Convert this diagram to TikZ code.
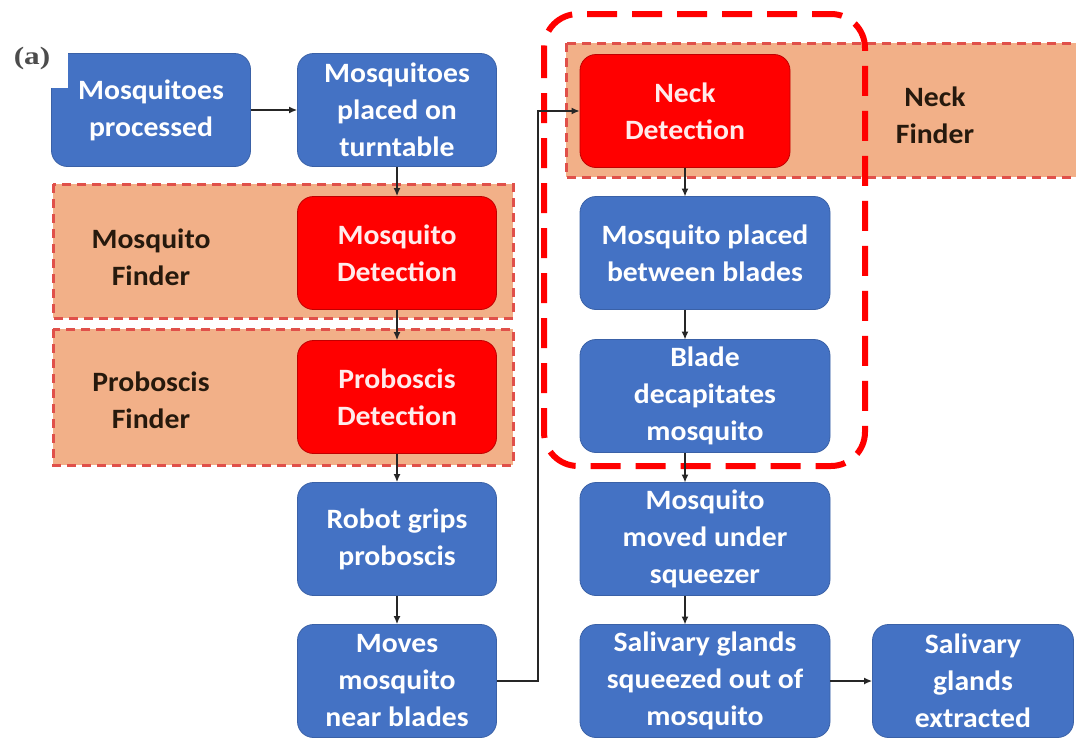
\documentclass[tikz,border=0pt]{standalone}
\usepackage{fontspec}
\setmainfont{Carlito}
\newfontfamily\labelserif{Liberation Serif}
\usetikzlibrary{arrows.meta}
\definecolor{boxblue}{HTML}{4472C4}
\definecolor{detred}{HTML}{FF0000}
\definecolor{detedge}{HTML}{C00000}
\definecolor{panelfill}{HTML}{F2B088}
\definecolor{paneledge}{HTML}{E0504A}
\definecolor{wire}{HTML}{262626}
\tikzset{
  boxfont/.style={font=\addfontfeature{FakeStretch=1.06}\fontsize{28}{37}\selectfont\bfseries},
  bluebox/.style={draw=boxblue!85!black, line width=0.8pt, fill=boxblue, rounded corners=16pt,
    text=white, boxfont, align=center,
    minimum width=199pt, minimum height=113pt, inner sep=0pt},
  redbox/.style={bluebox, draw=detedge, fill=detred, text=white!92!red},
  panel/.style={draw=paneledge, fill=panelfill, line width=3pt, dash pattern=on 9pt off 6pt},
  panellabel/.style={boxfont, text=black!80!brown, align=center},
  group/.style={draw=detred, line width=6pt, dash pattern=on 30pt off 15pt, rounded corners=34pt},
  link/.style={draw=wire, line width=1.4pt, -{Latex[length=8pt,width=7pt]}},
}
\begin{document}
\begin{tikzpicture}[x=1pt,y=-1pt]
\useasboundingbox (0,0) rectangle (1076,739);
\fill[white] (0,0) rectangle (1076,739);

% finder panels
\path[panel] (53,184) rectangle (513,318);
\path[panel] (53,329) rectangle (513,465);
\path[panel] (566,43) rectangle (1082,177);
\node[panellabel] (mfl) at (151,257) {Mosquito\\Finder};
\node[panellabel] (pfl) at (151,400) {Proboscis\\Finder};
\node[panellabel] (nfl) at (935,115) {Neck\\Finder};

% left column
\node[bluebox] (proc) at (151,110) {Mosquitoes\\processed};
\fill[white] (48,48) rectangle (68,88);
\node[font=\labelserif\addfontfeature{FakeStretch=1.25}\fontsize{25}{27}\selectfont\bfseries, text=black!70, inner sep=0pt] (lab) at (32,58) {(a)};
\node[bluebox] (turn) at (397,110) {Mosquitoes\\placed on\\turntable};
\node[redbox] (mdet) at (397,253) {Mosquito\\Detection};
\node[redbox] (pdet) at (397,397) {Proboscis\\Detection};
\node[bluebox] (grip) at (397,539) {Robot grips\\proboscis};
\node[bluebox] (move) at (397,681) {Moves\\mosquito\\near blades};

% right column
\node[redbox, minimum width=210pt] (neck) at (685,111) {Neck\\Detection};
\node[bluebox, minimum width=250pt] (place) at (705,253) {Mosquito placed\\between blades};
\node[bluebox, minimum width=250pt] (blade) at (705,396) {Blade\\decapitates\\mosquito};
\node[bluebox, minimum width=250pt] (squz) at (705,539) {Mosquito\\moved under\\squeezer};
\node[bluebox, minimum width=250pt] (glan) at (705,681) {Salivary glands\\squeezed out of\\mosquito};
\node[bluebox, minimum width=201pt] (extr) at (973,681) {Salivary\\glands\\extracted};

% decapitation stage outline
\path[group] (544,14) rectangle (865,466);

% connectors
\draw[link] (proc.east) -- (turn.west);
\draw[link] (turn.south) -- (mdet.north);
\draw[link] (mdet.south) -- (pdet.north);
\draw[link] (pdet.south) -- (grip.north);
\draw[link] (grip.south) -- (move.north);
\draw[link] (move.east) -- (538,681) -- (538,111) -- (neck.west);
\draw[link] (neck.south -| 685,0) -- (685,196.5);
\draw[link] (place.south -| 685,0) -- (685,339.5);
\draw[link] (blade.south -| 685,0) -- (685,482.5);
\draw[link] (squz.south -| 685,0) -- (685,624.5);
\draw[link] (glan.east) -- (extr.west);
\end{tikzpicture}
\end{document}
